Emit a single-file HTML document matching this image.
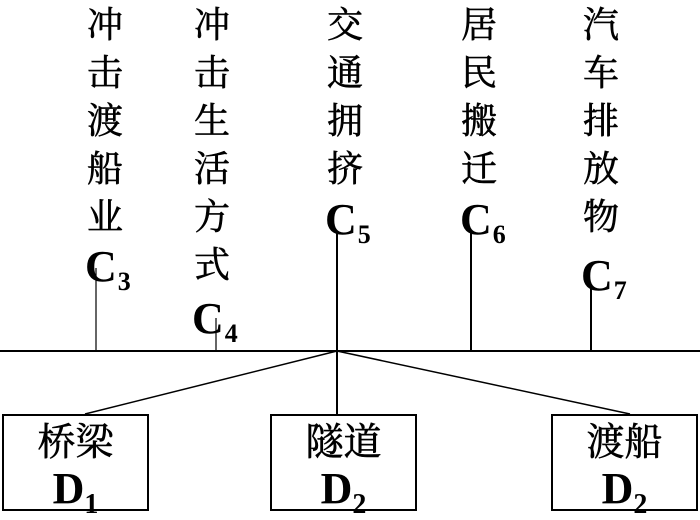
<!DOCTYPE html>
<html><head><meta charset="utf-8"><style>
body{margin:0;width:700px;height:513px;background:#fff;position:relative;overflow:hidden}
.col{position:absolute;top:1px;font:36px/48px "Liberation Serif","Noto Serif CJK SC",serif;width:40px;color:#000;-webkit-text-stroke:0.6px #000}
.c{position:absolute;font:bold 44px/44px "Liberation Serif",serif;color:#000;white-space:nowrap}
.c sub{font-size:26px;vertical-align:-9px;line-height:0;margin-left:1px}
.box{position:absolute;top:414px;width:143px;height:93px;border:2px solid #000;text-align:center}
.box .t{position:absolute;left:0;right:0;top:8px;font:38px/38px "Liberation Serif","Noto Serif CJK SC",serif;-webkit-text-stroke:0.6px #000}
.box .d{position:absolute;left:0;right:0;top:51px;font:bold 44px/44px "Liberation Serif",serif}
.box .d sub{font-size:28px;vertical-align:-10px;line-height:0}
</style></head><body>
<svg width="700" height="513" style="position:absolute;left:0;top:0">
<line x1="0" y1="351" x2="700" y2="351" stroke="#000" stroke-width="2"/>
<line x1="96" y1="268" x2="96" y2="351" stroke="#000" stroke-width="1.2"/>
<line x1="216" y1="318" x2="216" y2="351" stroke="#000" stroke-width="1.2"/>
<line x1="337" y1="232" x2="337" y2="414" stroke="#000" stroke-width="2"/>
<line x1="471" y1="232" x2="471" y2="351" stroke="#000" stroke-width="2"/>
<line x1="591" y1="288" x2="591" y2="351" stroke="#000" stroke-width="2"/>
<line x1="337" y1="351" x2="85" y2="414" stroke="#000" stroke-width="1.5"/>
<line x1="337" y1="351" x2="630" y2="414" stroke="#000" stroke-width="1.5"/>
</svg>
<div class="col" style="left:87px">冲<br>击<br>渡<br>船<br>业</div>
<div class="col" style="left:194px">冲<br>击<br>生<br>活<br>方<br>式</div>
<div class="col" style="left:327px">交<br>通<br>拥<br>挤</div>
<div class="col" style="left:461px">居<br>民<br>搬<br>迁</div>
<div class="col" style="left:583px">汽<br>车<br>排<br>放<br>物</div>
<div class="c" style="left:85px;top:245px">C<sub>3</sub></div>
<div class="c" style="left:192px;top:297px">C<sub>4</sub></div>
<div class="c" style="left:325px;top:198px">C<sub>5</sub></div>
<div class="c" style="left:460px;top:198px">C<sub>6</sub></div>
<div class="c" style="left:581px;top:254px">C<sub>7</sub></div>
<div class="box" style="left:2px"><div class="t">桥梁</div><div class="d">D<sub>1</sub></div></div>
<div class="box" style="left:270px"><div class="t">隧道</div><div class="d">D<sub>2</sub></div></div>
<div class="box" style="left:551px"><div class="t">渡船</div><div class="d">D<sub>2</sub></div></div>
</body></html>
